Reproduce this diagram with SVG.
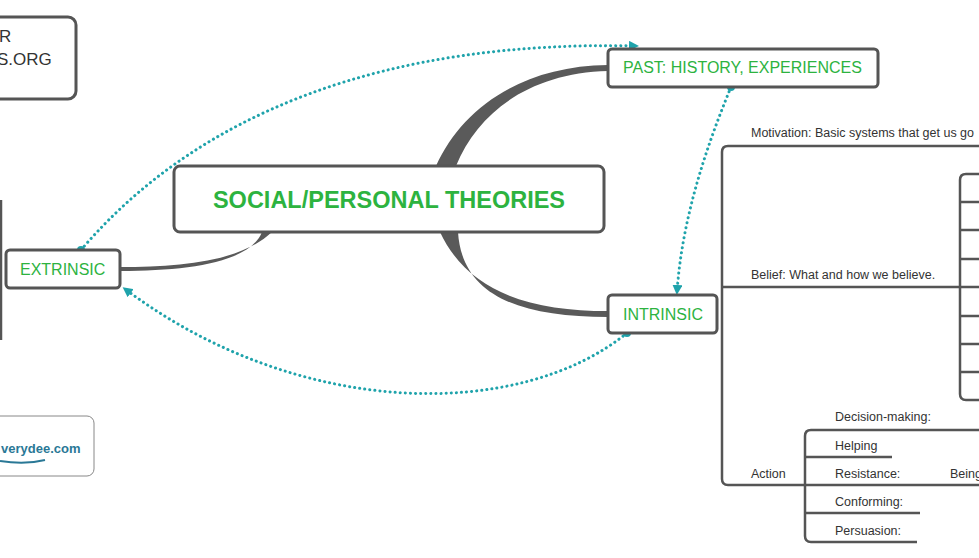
<svg xmlns="http://www.w3.org/2000/svg" width="979" height="558" viewBox="0 0 979 558">
<style>
.box{fill:#fff;stroke:#555;stroke-width:3}
.g{fill:#2db33f;font-family:"Liberation Sans",Arial,sans-serif}
.t{fill:#333;font-family:"Liberation Sans",Arial,sans-serif;font-size:12.5px}
.ln{fill:none;stroke:#555;stroke-width:2.5;stroke-linejoin:round}
.dot{fill:none;stroke:#1fa3ab;stroke-width:3;stroke-dasharray:0.1 5;stroke-linecap:round}
.br{fill:#5a5a5a}
</style>
<defs>
<marker id="ah" markerWidth="10" markerHeight="10" refX="7" refY="5" orient="auto" markerUnits="userSpaceOnUse"><path d="M0,0 L10,5 L0,10 Z" fill="#1fa3ab"/></marker>
</defs>
<g id="branches">
<path class="br" d="M436,166 C462,108 522,66 608,65 L608,71 C530,73 478,112 456,166 Z"/>
<path class="br" d="M440,232 C468,292 530,311 608,311 L608,317 C520,317 462,296 458,232 Z"/>
<path class="br" d="M272,232 C240,262 180,267 120,267 L120,271 C190,271 250,262 262,232 Z"/>
</g>
<g id="tree">
<path class="ln" d="M979,146 H728 Q722,146 722,152 V479 Q722,485 728,485 H805"/>
<path class="ln" d="M722,287 H979"/>
<path class="ln" d="M979,174 H966 Q960,174 960,180 V394 Q960,400 966,400 H979"/>
<path class="ln" d="M960,202 H979 M960,230 H979 M960,259 H979 M960,316 H979 M960,344 H979 M960,372 H979"/>
<path class="ln" d="M979,430 H811 Q805,430 805,436 V536 Q805,542 811,542 H917"/>
<path class="ln" d="M805,457 H892 M805,485 H979 M805,513 H920"/>
<path class="ln" d="M1,200 V340"/>
</g>
<g id="connectors">
<path class="dot" d="M81,250 C200,110 390,40 636,46" marker-end="url(#ah)"/>
<path class="dot" d="M731,87 C705,150 682,220 677,292" marker-end="url(#ah)"/>
<path class="dot" d="M627,333 C520,420 300,420 125,289" marker-end="url(#ah)"/>
<circle cx="81" cy="250" r="4" fill="#1fa3ab"/>
<circle cx="731" cy="87" r="4" fill="#1fa3ab"/>
<circle cx="627" cy="333" r="4" fill="#1fa3ab"/>
</g>
<g id="topleft">
<rect class="box" x="-10" y="17" width="86" height="82" rx="8" stroke-width="2"/>
<text x="-1" y="42" fill="#333" font-family="Liberation Sans,Arial,sans-serif" font-size="17">R</text>
<text x="-3" y="65" fill="#333" font-family="Liberation Sans,Arial,sans-serif" font-size="17">S.ORG</text>
</g>
<g id="central">
<rect class="box" x="174" y="166" width="430" height="66" rx="6" stroke-width="4"/>
<text class="g" x="389" y="208" text-anchor="middle" font-size="23.5" font-weight="bold">SOCIAL/PERSONAL THEORIES</text>
</g>
<g id="past">
<rect class="box" x="608" y="49" width="270" height="38" rx="4"/>
<text class="g" x="623" y="73" font-size="16">PAST: HISTORY, EXPERIENCES</text>
</g>
<g id="intrinsic">
<rect class="box" x="608" y="295" width="109" height="38" rx="4"/>
<text class="g" x="623" y="320" font-size="16">INTRINSIC</text>
</g>
<g id="extrinsic">
<rect class="box" x="6" y="250" width="114" height="38" rx="4"/>
<text class="g" x="20" y="275" font-size="16">EXTRINSIC</text>
</g>
<g id="logo">
<rect x="-10" y="416" width="104" height="60" rx="7" fill="#fff" stroke="#888" stroke-width="1"/>
<text x="1" y="453" fill="#2a7896" font-family="Liberation Sans,Arial,sans-serif" font-size="13" font-weight="bold">verydee.com</text>
<path d="M0,461 Q25,465 45,460" fill="none" stroke="#2a7896" stroke-width="2"/>
</g>
<g id="labels">
<text class="t" x="751" y="137">Motivation: Basic systems that get us go</text>
<text class="t" x="751" y="279">Belief: What and how we believe.</text>
<text class="t" x="751" y="478">Action</text>
<text class="t" x="835" y="421">Decision-making:</text>
<text class="t" x="835" y="450">Helping</text>
<text class="t" x="835" y="478">Resistance:</text>
<text class="t" x="950" y="478">Being</text>
<text class="t" x="835" y="506">Conforming:</text>
<text class="t" x="835" y="535">Persuasion:</text>
</g>
</svg>
